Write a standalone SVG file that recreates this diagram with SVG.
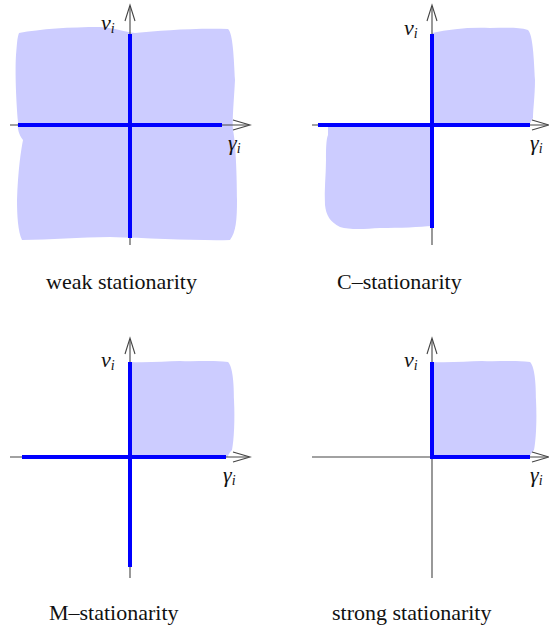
<svg xmlns="http://www.w3.org/2000/svg" width="549" height="633" viewBox="0 0 549 633">
<style>
.blob{fill:#ccccff;stroke:none}
.axis{stroke:#444;stroke-width:1.1;fill:none}
.blue{stroke:#0000ff;stroke-width:4;fill:none}
.math{font-family:serif;font-style:italic;font-size:22px;fill:#111}
.sub{font-size:14px}
.cap{font-family:serif;font-size:22px;fill:#111}
</style>
<rect width="549" height="633" fill="#fff"/>

<g id="weak">
<path class="blob" d="M19,33 C40,29 70,27 100,27 C115,28 125,32 135,33 C160,31 190,28 228,29 C233,33 234,60 235,80 C234,100 232,120 233,130 C236,145 237,180 237,200 C237,220 236,232 230,240 C200,241 150,238 110,237 C80,237 50,240 22,240 C18,232 17,215 17,200 C18,170 21,150 23,140 C19,135 17,128 18,122 C16,100 15,70 16,55 C17,45 17,38 19,33 Z"/>
<line class="axis" x1="10" y1="125" x2="249" y2="125"/>
<line class="axis" x1="130" y1="245" x2="130" y2="6"/>
<path class="axis" d="M125,21 L130,5 L135,21 M233,120 L250,125 L233,130"/>
<line class="blue" x1="18" y1="125" x2="222" y2="125"/>
<line class="blue" x1="130" y1="34" x2="130" y2="238"/>
<text class="math" x="101" y="30">ν<tspan class="sub" dy="3">i</tspan></text>
<text class="math" x="228" y="150">γ<tspan class="sub" dy="3">i</tspan></text>
<text class="cap" x="46" y="289">weak stationarity</text>
</g>

<g id="c-stat">
<path class="blob" d="M432,33 C450,29 470,27 490,28 C505,28 518,27 528,30 C533,35 534,60 535,80 C535,95 533,110 533,118 C530,122 530,124 530,125 L432,125 Z"/>
<path class="blob" d="M328,125 L432,125 L432,226 C420,227 400,228 380,228 C365,229 350,230 340,227 C330,222 326,215 325,205 C324,190 326,175 326,160 C326,150 326,140 328,135 Z"/>
<line class="axis" x1="312" y1="125" x2="548" y2="125"/>
<line class="axis" x1="432" y1="245" x2="432" y2="6"/>
<path class="axis" d="M427,21 L432,5 L437,21 M532,120 L549,125 L532,130"/>
<line class="blue" x1="318" y1="125" x2="530" y2="125"/>
<line class="blue" x1="432" y1="34" x2="432" y2="228"/>
<text class="math" x="404" y="35">ν<tspan class="sub" dy="3">i</tspan></text>
<text class="math" x="530" y="150">γ<tspan class="sub" dy="3">i</tspan></text>
<text class="cap" x="337" y="289">C–stationarity</text>
</g>

<g id="m-stat">
<path class="blob" d="M130,362 C150,363 165,361 180,361 C195,362 210,360 228,362 C233,367 234,385 234,400 C235,420 234,440 232,450 C229,453 228,455 228,457 L130,457 Z"/>
<line class="axis" x1="10" y1="457" x2="249" y2="457"/>
<line class="axis" x1="130" y1="578" x2="130" y2="339"/>
<path class="axis" d="M125,354 L130,338 L135,354 M233,452 L250,457 L233,462"/>
<line class="blue" x1="22" y1="457" x2="226" y2="457"/>
<line class="blue" x1="130" y1="362" x2="130" y2="567"/>
<text class="math" x="101" y="367">ν<tspan class="sub" dy="3">i</tspan></text>
<text class="math" x="223" y="482">γ<tspan class="sub" dy="3">i</tspan></text>
<text class="cap" x="49" y="620">M–stationarity</text>
</g>

<g id="strong">
<path class="blob" d="M432,362 C452,363 467,361 482,361 C497,362 512,360 530,362 C535,367 536,385 536,400 C537,420 536,440 534,450 C531,453 530,455 530,457 L432,457 Z"/>
<line class="axis" x1="312" y1="457" x2="548" y2="457"/>
<line class="axis" x1="432" y1="578" x2="432" y2="339"/>
<path class="axis" d="M427,354 L432,338 L437,354 M532,452 L549,457 L532,462"/>
<path class="blue" d="M432,362 L432,457 L530,457"/>
<text class="math" x="404" y="367">ν<tspan class="sub" dy="3">i</tspan></text>
<text class="math" x="530" y="482">γ<tspan class="sub" dy="3">i</tspan></text>
<text class="cap" x="332" y="620">strong stationarity</text>
</g>
</svg>
